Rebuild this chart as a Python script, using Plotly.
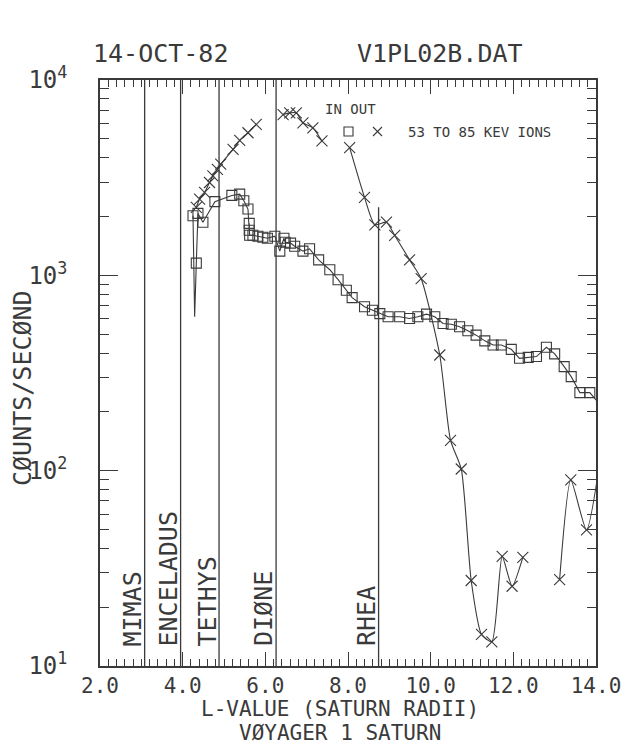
import plotly.graph_objects as go

# ---------------- data ----------------
in_L = [4.25, 4.33, 4.37, 4.49, 4.78, 5.19, 5.38, 5.48, 5.58, 5.61, 5.61, 5.62, 5.70,
        5.82, 5.94, 6.05, 6.23, 6.35, 6.45, 6.48, 6.61, 6.71, 6.91, 7.07, 7.29, 7.56,
        7.76, 7.96, 8.10, 8.40, 8.59, 8.77, 8.97, 9.25, 9.49, 9.69, 9.90, 10.10, 10.30,
        10.50, 10.70, 10.90, 11.10, 11.31, 11.51, 11.71, 11.95, 12.15, 12.36, 12.56,
        12.80, 13.00, 13.23, 13.40, 13.61, 13.85, 14.2]
in_counts = [2020, 1155, 2075, 1870, 2383, 2565, 2605, 2410, 2185, 1845, 1700, 1604, 1604,
             1585, 1567, 1548, 1585, 1330, 1548, 1478, 1462, 1410, 1330, 1367, 1200, 1068,
             950, 839, 769, 690, 663, 637, 614, 614, 601, 614, 633, 614, 567,
             562, 545, 520, 494, 462, 440, 440, 418, 376, 380, 384,
             428, 396, 341, 303, 251, 251, 205]
# dip of the IN trace between its first two squares (no symbol drawn there)
in_dip_L = 4.29
in_dip_counts = 614

out_L = [4.33, 4.41, 4.53, 4.65, 4.73, 4.84, 4.92, 5.22, 5.38, 5.58, 5.78, None,
         6.43, 6.59, 6.75, 6.91, 7.15, 7.37, None,
         8.04, 8.40, 8.65, 8.93, 9.13, 9.49, 9.77, 10.22, 10.48, 10.74, 10.98, 11.23,
         11.48, 11.73, 11.97, 12.23, None,
         13.12, 13.39, 13.77, 14.2]
out_counts = [2228, 2455, 2656, 2987, 3230, 3490, 3705, 4415, 4910, 5370, 5920, None,
              6656, 6790, 6790, 6040, 5690, 4873, None,
              4505, 2506, 1815, 1870, 1600, 1200, 961, 391, 143, 102, 27.4, 14.5,
              13.3, 36.4, 25.6, 36.0, None,
              27.7, 89.6, 49.8, 160]

moon_names = ["MIMAS", "ENCELADUS", "TETHYS", "DIØNE", "RHEA"]
moon_L = [3.08, 3.95, 4.88, 6.26, 8.74]
moon_top = [1.0, 1.0, 1.0, 1.0, 0.783]   # fraction of plot height reached by each line

x_ticks = [2, 4, 6, 8, 10, 12, 14]
x_ticktext = ["2.0", "4.0", "6.0", "8.0", "10.0", "12.0", "14.0"]
y_ticks = [10, 100, 1000, 10000]
y_ticktext = ["10<sup>1</sup>", "10<sup>2</sup>", "10<sup>3</sup>", "10<sup>4</sup>"]
y_minor = [m * 10 ** k for k in range(1, 4) for m in range(2, 10)]

# ---------------- style ----------------
INK = "#3a3a3a"
FONT = "DejaVu Sans Mono"
L0, R0, T0, B0 = 92, 52, 72, 87
PW, PH = 640.0 - L0 - R0, 745.0 - T0 - B0


def px(xp):
    return (xp - L0) / PW


def py(yp):
    return (745 - B0 - yp) / PH


fig = go.Figure()

# IN line (includes the dip), then IN squares
pairs = sorted(list(zip(in_L, in_counts)) + [(in_dip_L, in_dip_counts)])
fig.add_trace(go.Scatter(x=[p[0] for p in pairs], y=[p[1] for p in pairs], mode="lines",
                         line=dict(color=INK, width=1.1), showlegend=False, hoverinfo="skip"))
fig.add_trace(go.Scatter(x=in_L, y=in_counts, mode="markers",
                         marker=dict(symbol="square-open", size=10, color=INK,
                                     line=dict(width=1.1, color=INK)),
                         showlegend=False))
# OUT
fig.add_trace(go.Scatter(x=out_L, y=out_counts, mode="lines+markers",
                         line=dict(color=INK, width=1.1, shape="spline", smoothing=0.6),
                         marker=dict(symbol="x-thin-open", size=11, color=INK,
                                     line=dict(width=1.1, color=INK)),
                         connectgaps=False, showlegend=False))

shapes = []
annotations = []
for name, L, top in zip(moon_names, moon_L, moon_top):
    shapes.append(dict(type="line", xref="x", yref="paper", x0=L, x1=L, y0=0, y1=top,
                       line=dict(color=INK, width=1.3)))
    annotations.append(dict(text=name, x=L, xref="x", y=0.03, yref="paper", textangle=-90,
                            xanchor="center", yanchor="bottom", xshift=-12, showarrow=False,
                            font=dict(family=FONT, size=25, color=INK)))

# legend
annotations.append(dict(text="IN OUT", x=px(315), y=py(101), xref="paper", yref="paper",
                        xanchor="left", yanchor="middle", showarrow=False,
                        font=dict(family=FONT, size=14, color=INK)))
annotations.append(dict(text="53 TO 85 KEV IONS", x=px(398), y=py(124), xref="paper",
                        yref="paper", xanchor="left", yanchor="middle", showarrow=False,
                        font=dict(family=FONT, size=14, color=INK)))
shapes.append(dict(type="rect", xref="paper", yref="paper", x0=px(336), x1=px(345),
                   y0=py(128), y1=py(119), line=dict(color=INK, width=1.1)))
shapes.append(dict(type="line", xref="paper", yref="paper", x0=px(365), x1=px(374),
                   y0=py(119), y1=py(128), line=dict(color=INK, width=1.1)))
shapes.append(dict(type="line", xref="paper", yref="paper", x0=px(365), x1=px(374),
                   y0=py(128), y1=py(119), line=dict(color=INK, width=1.1)))

# titles
annotations += [
    dict(text="14-OCT-82", x=px(152), y=py(45), xref="paper", yref="paper", showarrow=False,
         xanchor="center", yanchor="middle", font=dict(family=FONT, size=25, color=INK)),
    dict(text="V1PL02B.DAT", x=px(432), y=py(45), xref="paper", yref="paper", showarrow=False,
         xanchor="center", yanchor="middle", font=dict(family=FONT, size=25, color=INK)),
    dict(text="L-VALUE (SATURN RADII)", x=px(332), y=py(701), xref="paper", yref="paper",
         showarrow=False, xanchor="center", yanchor="middle",
         font=dict(family=FONT, size=21, color=INK)),
    dict(text="VØYAGER 1 SATURN", x=px(332), y=py(725), xref="paper", yref="paper",
         showarrow=False, xanchor="center", yanchor="middle",
         font=dict(family=FONT, size=21, color=INK)),
    dict(text="CØUNTS/SECØND", x=px(14), y=py(380), xref="paper", yref="paper",
         showarrow=False, textangle=-90, xanchor="center", yanchor="middle",
         font=dict(family=FONT, size=25, color=INK)),
]

fig.update_layout(
    width=640, height=745,
    margin=dict(l=L0, r=R0, t=T0, b=B0, autoexpand=False),
    paper_bgcolor="white", plot_bgcolor="white",
    showlegend=False,
    font=dict(family=FONT, color=INK),
    shapes=shapes, annotations=annotations,
)
fig.update_xaxes(range=[2, 14], tickvals=x_ticks, ticktext=x_ticktext, ticks="inside",
                 ticklen=14, tickwidth=1.2, tickcolor=INK, showline=True, linecolor=INK,
                 linewidth=1.5, mirror="allticks", showgrid=False, zeroline=False,
                 ticklabelstandoff=0,
                 tickfont=dict(family=FONT, size=21, color=INK),
                 minor=dict(dtick=0.2, ticks="inside", ticklen=7, tickcolor=INK,
                            tickwidth=1, showgrid=False))
fig.update_yaxes(type="log", range=[1, 4], tickvals=y_ticks, ticktext=y_ticktext,
                 ticks="inside", ticklen=18, tickwidth=1.2, tickcolor=INK, showline=True,
                 linecolor=INK, linewidth=1.5, mirror="allticks", showgrid=False,
                 zeroline=False, ticklabelstandoff=26,
                 tickfont=dict(family=FONT, size=24, color=INK),
                 minor=dict(tickvals=y_minor, ticks="inside", ticklen=9, tickcolor=INK,
                            tickwidth=1, showgrid=False))

fig.write_html("out.html")
